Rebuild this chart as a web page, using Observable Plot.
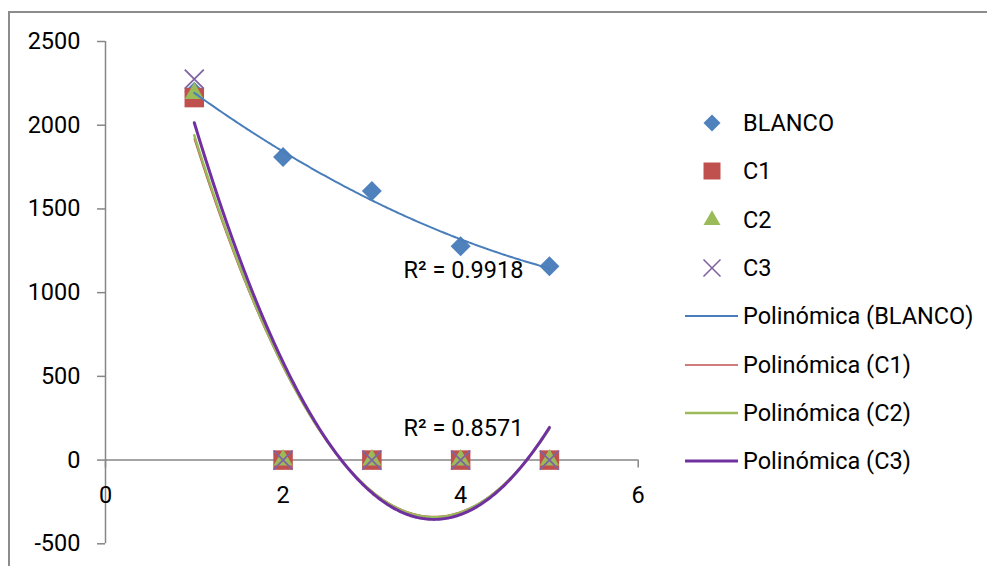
<!DOCTYPE html>
<html><head><meta charset="utf-8">
<script src="https://cdn.jsdelivr.net/npm/d3@7"></script>
<script src="https://cdn.jsdelivr.net/npm/@observablehq/plot@0.6"></script>
<style>
body{margin:0;background:#fff;}
#wrap{position:relative;width:987px;height:566px;overflow:hidden;font-family:Roboto,sans-serif;background:#fff;}
#frame{position:absolute;left:8px;top:11px;width:2000px;height:2000px;border:2px solid #8c8c8c;}
#chart{position:absolute;left:0;top:0;}
#legend{position:absolute;left:680px;top:99px;}
.row{height:48.3px;display:flex;align-items:center;font-size:23.5px;color:#000;white-space:nowrap;}
.row svg{width:60px;height:30px;margin-right:3px;flex:none;}
</style></head><body>
<div id="wrap"><div id="frame"></div><div id="chart"></div><div id="legend"></div></div>
<script>
// ---- data ----
const xValues = [1, 2, 3, 4, 5];
const blanco = [2200, 1810, 1607, 1277, 1157];
const c1 = [2165, 0, 0, 0, 0];
const c2 = [2190, 0, 0, 0, 0];
const c3 = [2275, 0, 0, 0, 0];
const seriesNames = ["BLANCO", "C1", "C2", "C3"];
const trendNames = ["Polinómica (BLANCO)", "Polinómica (C1)", "Polinómica (C2)", "Polinómica (C3)"];
const xTicks = [0, 2, 4, 6];
const yTicks = [-500, 0, 500, 1000, 1500, 2000, 2500];
const r2Labels = [
  {label: "R² = 0.9918", x: 3.357, y: 1133},
  {label: "R² = 0.8571", x: 3.357, y: 189}
];

// ---- styles ----
const axisColor = "#868686";
const markerColors = ["#4F81BD", "#C0504D", "#9BBB59", "#8064A2"];
const lineColors = ["#4A7EBB", "#C0504D", "#9BBB59", "#7030A0"];
const lineWidths = [2, 1.5, 2.5, 3];
const FONT = 23.5;

// ---- quadratic least-squares trendline (Excel "Polinómica", order 2) ----
function polyFit2(xs, ys) {
  const S = [0,0,0,0,0], T = [0,0,0];
  xs.forEach((x, i) => {
    for (let k = 0; k < 5; k++) S[k] += x ** k;
    for (let k = 0; k < 3; k++) T[k] += ys[i] * x ** k;
  });
  const M = [[S[0],S[1],S[2],T[0]],[S[1],S[2],S[3],T[1]],[S[2],S[3],S[4],T[2]]];
  for (let c = 0; c < 3; c++) {
    for (let r = c + 1; r < 3; r++) {
      const f = M[r][c] / M[c][c];
      for (let k = c; k < 4; k++) M[r][k] -= f * M[c][k];
    }
  }
  const a = [0,0,0];
  for (let r = 2; r >= 0; r--) {
    let s = M[r][3];
    for (let k = r + 1; k < 3; k++) s -= M[r][k] * a[k];
    a[r] = s / M[r][r];
  }
  return x => a[0] + a[1] * x + a[2] * x * x;
}

const allSeries = [blanco, c1, c2, c3];
const points = allSeries.map((ys, s) => xValues.map((x, i) => ({x, y: ys[i], s: seriesNames[s]})));
const sampleX = d3.range(xValues[0], xValues[xValues.length - 1] + 1e-9, 0.02);
const trends = allSeries.map((ys, s) => {
  const f = polyFit2(xValues, ys);
  return sampleX.map(x => ({x, y: f(x), s: trendNames[s]}));
});

const symbols = ["diamond2", "square", "triangle", "times"];
const radii = [9.0, 11.0, 7.1, 8.7];

const marks = [
  // y axis line + ticks
  Plot.ruleX([0], {y1: yTicks[0], y2: yTicks[yTicks.length - 1], stroke: axisColor, strokeWidth: 1.5}),
  Plot.ruleY(yTicks, {y: d => d, x1: 0, x2: 0, insetLeft: -8, stroke: axisColor, strokeWidth: 1.5}),
  Plot.text(yTicks, {x: 0, y: d => d, text: d => String(d), textAnchor: "end", dx: -25, fontSize: FONT, fill: "#000"}),
  // x axis line + ticks
  Plot.ruleY([0], {x1: xTicks[0], x2: xTicks[xTicks.length - 1], stroke: axisColor, strokeWidth: 1.5}),
  Plot.ruleX(xTicks, {x: d => d, y1: 0, y2: 0, insetBottom: -8, stroke: axisColor, strokeWidth: 1.5}),
  Plot.text(xTicks, {x: d => d, y: 0, text: d => String(d), dy: 35, fontSize: FONT, fill: "#000"}),
];
points.forEach((pts, s) => {
  if (symbols[s] === "times") {
    marks.push(Plot.dot(pts, {x: "x", y: "y", symbol: symbols[s], r: radii[s], stroke: markerColors[s], strokeWidth: 1.8}));
  } else {
    marks.push(Plot.dot(pts, {x: "x", y: "y", symbol: symbols[s], r: radii[s], fill: markerColors[s], stroke: "none"}));
  }
});
trends.forEach((t, s) => {
  marks.push(Plot.line(t, {x: "x", y: "y", stroke: lineColors[s], strokeWidth: lineWidths[s]}));
});
marks.push(Plot.text(r2Labels, {x: "x", y: "y", text: "label", textAnchor: "start", fontSize: FONT, fill: "#000"}));

const chart = Plot.plot({
  width: 987,
  height: 566,
  marginLeft: 105,
  marginRight: 349.3,
  marginTop: 41,
  marginBottom: 22.7,
  x: {domain: [xTicks[0], xTicks[xTicks.length - 1]], axis: null},
  y: {domain: [yTicks[0], yTicks[yTicks.length - 1]], axis: null},
  style: {fontFamily: "Roboto, sans-serif", fontSize: FONT + "px", background: "transparent", overflow: "visible"},
  marks
});
document.getElementById("chart").appendChild(chart);

// ---- legend ----
const legend = d3.select("#legend");
const legendSizes = [184, 289, 125, 190];
seriesNames.forEach((name, s) => {
  const row = legend.append("div").attr("class", "row");
  const svg = row.append("svg").attr("viewBox", "0 0 60 30");
  const p = svg.append("path")
    .attr("transform", "translate(32,15)")
    .attr("d", d3.symbol(d3["symbol" + symbols[s][0].toUpperCase() + symbols[s].slice(1)], legendSizes[s])());
  if (symbols[s] === "times") p.attr("fill", "none").attr("stroke", markerColors[s]).attr("stroke-width", 1.6);
  else p.attr("fill", markerColors[s]);
  row.append("span").text(name);
});
trendNames.forEach((name, s) => {
  const row = legend.append("div").attr("class", "row");
  const svg = row.append("svg").attr("viewBox", "0 0 60 30");
  svg.append("line").attr("x1", 5).attr("x2", 58).attr("y1", 15).attr("y2", 15)
    .attr("stroke", lineColors[s]).attr("stroke-width", lineWidths[s]);
  row.append("span").text(name);
});
</script>
</body></html>
